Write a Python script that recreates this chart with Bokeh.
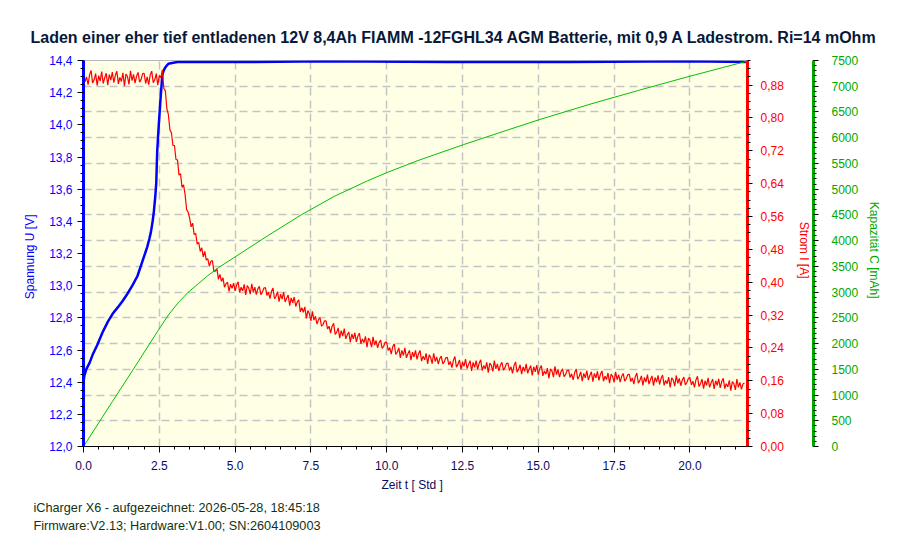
import numpy as np
from bokeh.plotting import figure
from bokeh.models import (Range1d, LinearAxis, SingleIntervalTicker,
                          CustomJSTickFormatter, BasicTickFormatter, Title)
from bokeh.embed import file_html
from bokeh.resources import INLINE

TITLE = ("Laden einer eher tief entladenen 12V 8,4Ah FIAMM -12FGHL34 AGM Batterie, "
         "mit 0,9 A Ladestrom. Ri=14 mOhm")
FOOTER = ["iCharger X6 - aufgezeichnet: 2026-05-28, 18:45:18",
          "Firmware:V2.13; Hardware:V1.00; SN:2604109003"]

# Spannung U [V] over Zeit t [Std]
t_U = [0.0, 0.0, 0.03, 0.09, 0.2, 0.3, 0.45, 0.63, 0.8, 0.96, 1.13, 1.29, 1.45,
       1.61, 1.78, 1.94, 2.03, 2.1, 2.17, 2.22, 2.28, 2.32, 2.37, 2.4, 2.43,
       2.46, 2.49, 2.54, 2.6, 2.65, 2.71, 2.8, 2.92, 3.1, 3.25, 5.0, 8.0,
       12.0, 16.0, 20.0, 21.85]
U_V = [12.0, 12.4, 12.44, 12.48, 12.52, 12.57, 12.63, 12.71, 12.775, 12.825,
       12.865, 12.905, 12.95, 13.0, 13.06, 13.15, 13.2, 13.24, 13.29, 13.33,
       13.4, 13.46, 13.56, 13.64, 13.83, 13.93, 14.02, 14.16, 14.31, 14.34,
       14.36, 14.38, 14.385, 14.39, 14.39, 14.39, 14.395, 14.39, 14.39,
       14.395, 14.39]

# Strom I [A], logged every 0.05 h (first sample at t=0 after switch-on)
I_dt = 0.05
I_start = 0.0
I_A = [
    0.911, 0.888, 0.900, 0.881, 0.905, 0.916, 0.885, 0.893, 0.908, 0.879,
    0.903, 0.890, 0.913, 0.884, 0.898, 0.909, 0.880, 0.906, 0.892, 0.912,
    0.886, 0.904, 0.914, 0.883, 0.899, 0.889, 0.910, 0.878, 0.907, 0.901,
    0.882, 0.915, 0.891, 0.906, 0.885, 0.902, 0.911, 0.887, 0.894, 0.908,
    0.909, 0.884, 0.900, 0.881, 0.905, 0.914, 0.886, 0.893, 0.908, 0.880,
    0.903, 0.898, 0.917, 0.872, 0.866, 0.822, 0.808, 0.771, 0.764, 0.733,
    0.733, 0.699, 0.698, 0.661, 0.664, 0.631, 0.637, 0.614, 0.577, 0.571,
    0.556, 0.535, 0.544, 0.516, 0.519, 0.493, 0.497, 0.475, 0.484, 0.462,
    0.475, 0.454, 0.457, 0.439, 0.451, 0.453, 0.427, 0.427, 0.433, 0.407,
    0.419, 0.402, 0.411, 0.388, 0.396, 0.400, 0.378, 0.395, 0.385, 0.398,
    0.379, 0.393, 0.401, 0.375, 0.388, 0.379, 0.395, 0.369, 0.392, 0.386,
    0.371, 0.396, 0.376, 0.388, 0.370, 0.384, 0.390, 0.370, 0.376, 0.386,
    0.387, 0.368, 0.376, 0.360, 0.378, 0.386, 0.360, 0.366, 0.377, 0.353,
    0.371, 0.359, 0.376, 0.352, 0.361, 0.369, 0.343, 0.362, 0.350, 0.364,
    0.341, 0.352, 0.357, 0.328, 0.338, 0.327, 0.340, 0.312, 0.331, 0.323,
    0.306, 0.329, 0.308, 0.317, 0.298, 0.309, 0.314, 0.293, 0.297, 0.306,
    0.306, 0.286, 0.293, 0.276, 0.293, 0.300, 0.273, 0.278, 0.289, 0.264,
    0.282, 0.269, 0.287, 0.262, 0.272, 0.279, 0.254, 0.274, 0.262, 0.277,
    0.255, 0.269, 0.276, 0.250, 0.262, 0.253, 0.268, 0.242, 0.264, 0.258,
    0.242, 0.267, 0.247, 0.258, 0.240, 0.253, 0.259, 0.239, 0.244, 0.254,
    0.253, 0.234, 0.241, 0.225, 0.243, 0.250, 0.224, 0.230, 0.240, 0.216,
    0.234, 0.222, 0.240, 0.216, 0.226, 0.234, 0.210, 0.230, 0.218, 0.234,
    0.212, 0.226, 0.234, 0.208, 0.220, 0.211, 0.227, 0.201, 0.223, 0.217,
    0.202, 0.227, 0.207, 0.218, 0.201, 0.214, 0.220, 0.201, 0.206, 0.216,
    0.217, 0.199, 0.207, 0.192, 0.210, 0.219, 0.193, 0.200, 0.211, 0.188,
    0.206, 0.195, 0.213, 0.190, 0.200, 0.209, 0.184, 0.205, 0.193, 0.209,
    0.188, 0.203, 0.211, 0.185, 0.197, 0.189, 0.205, 0.180, 0.203, 0.198,
    0.183, 0.209, 0.189, 0.201, 0.184, 0.198, 0.205, 0.186, 0.192, 0.202,
    0.203, 0.185, 0.194, 0.178, 0.197, 0.206, 0.181, 0.188, 0.199, 0.176,
    0.194, 0.183, 0.201, 0.178, 0.189, 0.197, 0.173, 0.194, 0.182, 0.198,
    0.175, 0.190, 0.197, 0.172, 0.184, 0.176, 0.191, 0.166, 0.189, 0.184,
    0.169, 0.195, 0.175, 0.187, 0.169, 0.183, 0.189, 0.170, 0.175, 0.185,
    0.186, 0.168, 0.177, 0.162, 0.180, 0.189, 0.164, 0.171, 0.182, 0.159,
    0.178, 0.167, 0.185, 0.162, 0.173, 0.182, 0.158, 0.178, 0.167, 0.183,
    0.161, 0.176, 0.184, 0.159, 0.171, 0.163, 0.179, 0.154, 0.176, 0.171,
    0.156, 0.182, 0.163, 0.175, 0.157, 0.171, 0.178, 0.159, 0.165, 0.175,
    0.176, 0.158, 0.167, 0.152, 0.170, 0.179, 0.154, 0.161, 0.172, 0.149,
    0.168, 0.157, 0.175, 0.152, 0.163, 0.172, 0.148, 0.168, 0.157, 0.173,
    0.151, 0.166, 0.174, 0.149, 0.161, 0.153, 0.169, 0.144, 0.167, 0.162,
    0.147, 0.173, 0.154, 0.166, 0.148, 0.162, 0.169, 0.150, 0.156, 0.166,
    0.168, 0.150, 0.159, 0.144, 0.162, 0.171, 0.146, 0.153, 0.164, 0.141,
    0.160, 0.149, 0.167, 0.144, 0.155, 0.164, 0.140, 0.160, 0.149, 0.165,
    0.143, 0.158, 0.166, 0.141, 0.153, 0.145, 0.161, 0.136, 0.158, 0.153,
    0.138, 0.164, 0.144, 0.156, 0.139, 0.152, 0.155,
]

# Kapazitaet C [mAh]
t_C = [0.0, 0.96, 1.61, 2.49, 2.8, 3.14, 3.45, 3.8, 4.1, 4.45, 5.33, 6.09,
       7.18, 8.27, 9.36, 10.02, 11.0, 12.53, 13.94, 15.03, 16.67, 18.31,
       19.94, 21.58, 21.87]
C_mAh = [0, 880, 1470, 2280, 2555, 2805, 2995, 3170, 3320, 3475, 3810, 4100,
         4500, 4860, 5160, 5325, 5550, 5865, 6140, 6350, 6645, 6920, 7185,
         7440, 7483]

FONT = "Liberation Sans"
BLUE = "#0000ff"
RED = "#ff0000"
GREEN_LINE = "#00c000"
GREEN_AXIS = "#00a800"
DARK = "#0c0c5c"

p = figure(width=884, height=544, output_backend="svg", toolbar_location=None,
           x_range=Range1d(0, 21.9), y_range=Range1d(12.0, 14.4),
           min_border_left=83, min_border_right=129,
           min_border_top=60, min_border_bottom=98)
p.background_fill_color = "#ffffe6"
p.border_fill_color = "white"
p.outline_line_color = "#b8b8b8"
p.extra_y_ranges = {"I": Range1d(0, 0.94), "C": Range1d(0, 7500)}

p.title.text = TITLE
p.title.align = "left"
p.title.offset = -53
p.title.standoff = 28
p.title.vertical_align = "middle"
p.title.text_font = FONT
p.title.text_font_size = "16px"
p.title.text_font_style = "bold"
p.title.text_color = "#081838"


def style_axis(ax, color, label_color, label):
    ax.axis_line_color = color
    ax.axis_line_width = 3
    ax.major_tick_line_color = "black"
    ax.minor_tick_line_color = "black"
    ax.major_tick_in = 0
    ax.minor_tick_in = 0
    ax.major_tick_out = 6
    ax.minor_tick_out = 3
    ax.major_label_text_color = label_color
    ax.major_label_text_font = FONT
    ax.major_label_text_font_size = "12px"
    ax.axis_label = label
    ax.axis_label_text_color = label_color
    ax.axis_label_text_font = FONT
    ax.axis_label_text_font_size = "12px"
    ax.axis_label_text_font_style = "normal"


# x axis
xa = p.xaxis[0]
xa.ticker = SingleIntervalTicker(interval=2.5, num_minor_ticks=5)
xa.formatter = CustomJSTickFormatter(code="return tick.toFixed(1)")
style_axis(xa, "black", DARK, "Zeit  t  [ Std ]")
xa.axis_line_width = 1
xa.major_label_standoff = 8
xa.axis_label_standoff = 5

# left: voltage
ya = p.yaxis[0]
ya.ticker = SingleIntervalTicker(interval=0.2, num_minor_ticks=4)
ya.formatter = CustomJSTickFormatter(code="return tick.toFixed(1).replace('.', ',')")
style_axis(ya, BLUE, BLUE, "Spannung  U  [V]")
ya.major_label_standoff = 5
ya.axis_label_standoff = 9

# right: current
ia = LinearAxis(y_range_name="I")
ia.ticker = SingleIntervalTicker(interval=0.08, num_minor_ticks=4)
ia.formatter = CustomJSTickFormatter(code="return tick.toFixed(2).replace('.', ',')")
style_axis(ia, RED, RED, "Strom  I  [A]")
ia.major_tick_out = 5
ia.major_label_standoff = 8
ia.axis_label_standoff = 10
p.add_layout(ia, "right")

# right: capacity
ca = LinearAxis(y_range_name="C")
ca.ticker = SingleIntervalTicker(interval=500, num_minor_ticks=5)
ca.formatter = BasicTickFormatter()
style_axis(ca, GREEN_AXIS, GREEN_AXIS, "Kapazität  C  [mAh]")
ca.major_tick_out = 5
ca.major_label_standoff = 13
ca.axis_label_standoff = 6
p.add_layout(ca, "right")

# grid: vertical every 2.5 h, horizontal on the capacity divisions
p.xgrid.grid_line_color = "#c4c4c4"
p.xgrid.grid_line_dash = "8 5"
p.xgrid.grid_line_width = 1.5
p.ygrid.ticker = SingleIntervalTicker(interval=0.16)
p.ygrid.grid_line_color = "#c4c4c4"
p.ygrid.grid_line_dash = "8 5"
p.ygrid.grid_line_width = 1.5

t_I = np.concatenate([[0.0], np.arange(len(I_A)) * I_dt])
i_vals = [I_start] + I_A

p.line(t_U, U_V, line_color=BLUE, line_width=2.5)
p.line(t_I, i_vals, line_color=RED, line_width=1.2, y_range_name="I")
p.line(t_C, C_mAh, line_color=GREEN_LINE, line_width=1, y_range_name="C")

for line, gap in zip(FOOTER, [8, -4]):
    p.add_layout(Title(text=line, align="left", offset=-50, standoff=gap,
                       text_font=FONT, text_font_size="12.7px",
                       text_font_style="normal", text_color="#123212"), "below")

open("out.html", "w").write(file_html(p, INLINE))
